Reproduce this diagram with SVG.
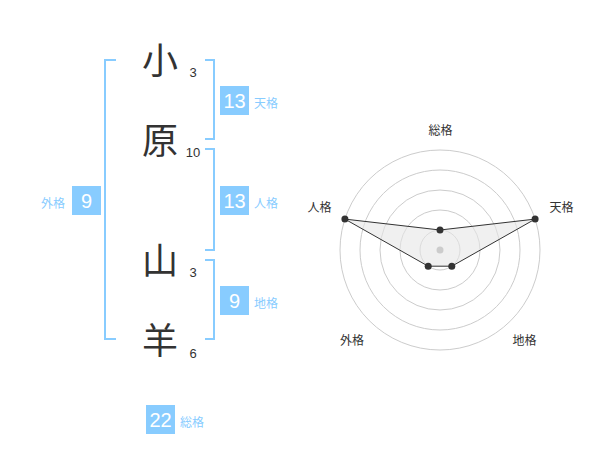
<svg xmlns="http://www.w3.org/2000/svg" width="600" height="470" viewBox="0 0 600 470">
<style>
.kanji{font-family:"Noto Sans CJK JP","Noto Sans CJK SC",sans-serif;font-size:36px;fill:#333;text-anchor:middle}
.stroke{font-family:"Liberation Sans",Arial,sans-serif;font-size:13px;fill:#333;text-anchor:middle}
.br{fill:none;stroke:#88ccff;stroke-width:2}
.box{fill:#88ccff}
.num{font-family:"Liberation Sans",Arial,sans-serif;font-size:20px;fill:#fff;text-anchor:middle}
.lbl{font-family:"Noto Sans CJK JP","Noto Sans CJK SC",sans-serif;font-size:12px;fill:#88ccff}
.ring{fill:none;stroke:#cccccc;stroke-width:1}
.axl{font-family:"Noto Sans CJK JP","Noto Sans CJK SC",sans-serif;font-size:12px;fill:#333;text-anchor:middle}
.pt{fill:#333}
</style>
<rect width="600" height="470" fill="#fff"/>
<g id="chars">
<g id="c1"><text class="kanji" x="160" y="74">小</text><text class="stroke" x="193" y="77">3</text></g>
<g id="c2"><text class="kanji" x="160" y="154">原</text><text class="stroke" x="193" y="157">10</text></g>
<g id="c3"><text class="kanji" x="160" y="274">山</text><text class="stroke" x="193" y="277">3</text></g>
<g id="c4"><text class="kanji" x="160" y="354">羊</text><text class="stroke" x="193" y="358">6</text></g>
</g>
<g id="connectors">
<path class="br" d="M116,60 H105 V339 H116"/>
<path class="br" d="M205,60 H214 V139 H205"/>
<path class="br" d="M205,149 H214 V250 H205"/>
<path class="br" d="M205,260 H214 V339 H205"/>
</g>
<g id="tenkaku"><rect class="box" x="220" y="86" width="29" height="29"/><text class="num" x="234.5" y="108">13</text><text class="lbl" x="254" y="108">天格</text></g>
<g id="jinkaku"><rect class="box" x="220" y="186" width="29" height="29"/><text class="num" x="234.5" y="208">13</text><text class="lbl" x="254" y="208">人格</text></g>
<g id="gaikaku"><rect class="box" x="72" y="186" width="29" height="29"/><text class="num" x="86.5" y="208">9</text><text class="lbl" x="41" y="208">外格</text></g>
<g id="chikaku"><rect class="box" x="220" y="286" width="29" height="29"/><text class="num" x="234.5" y="308">9</text><text class="lbl" x="254" y="308">地格</text></g>
<g id="soukaku"><rect class="box" x="146" y="405" width="29" height="29"/><text class="num" x="160.5" y="427">22</text><text class="lbl" x="180" y="427">総格</text></g>
<g id="radar">
<circle class="ring" cx="440" cy="250" r="20"/>
<circle class="ring" cx="440" cy="250" r="40"/>
<circle class="ring" cx="440" cy="250" r="60"/>
<circle class="ring" cx="440" cy="250" r="80"/>
<circle class="ring" cx="440" cy="250" r="100"/>
<polygon points="440,230 535.1,219.1 451.8,266.2 428.2,266.2 344.9,219.1" fill="#e6e6e6" fill-opacity="0.6" stroke="#333" stroke-width="1"/>
<circle cx="440" cy="250" r="3.5" fill="#cccccc"/>
<circle class="pt" cx="440" cy="230" r="3.5"/>
<circle class="pt" cx="535.1" cy="219.1" r="3.5"/>
<circle class="pt" cx="451.8" cy="266.2" r="3.5"/>
<circle class="pt" cx="428.2" cy="266.2" r="3.5"/>
<circle class="pt" cx="344.9" cy="219.1" r="3.5"/>
<text class="axl" x="440.5" y="135">総格</text>
<text class="axl" x="561.5" y="212">天格</text>
<text class="axl" x="319.5" y="212">人格</text>
<text class="axl" x="352" y="345">外格</text>
<text class="axl" x="524.5" y="345">地格</text>
</g>
</svg>
